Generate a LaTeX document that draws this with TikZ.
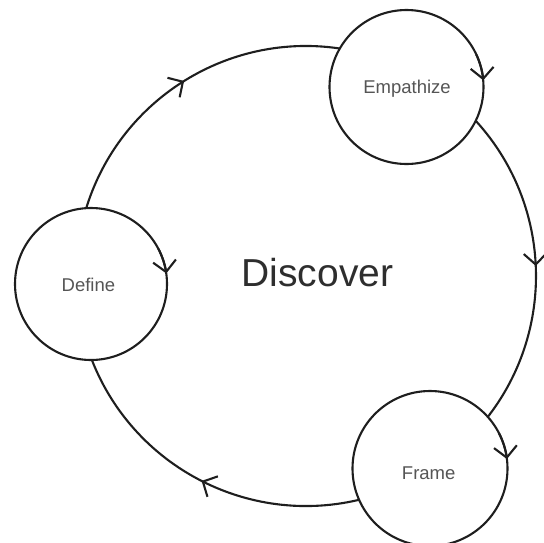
\documentclass[tikz,border=0pt]{standalone}
\usepackage{fontspec}
\setmainfont{Liberation Sans}
\usetikzlibrary{arrows.meta,decorations.markings}
\definecolor{ink}{HTML}{1E1E1E}
\definecolor{labelgray}{HTML}{555555}
\definecolor{titlegray}{HTML}{2E2E2E}
\begin{document}
\begin{tikzpicture}[x=1pt,y=1pt,line width=2.1pt,
  chevtip/.tip={Straight Barb[length=11pt,width=23pt]},
  bigarc/.style={draw=ink,postaction={decorate},
    decoration={markings,mark=at position 0.5 with {\arrow[ink]{chevtip}}}},
  phase/.style={circle,draw=ink,fill=white,minimum size=154pt,inner sep=0pt,outer sep=0pt},
  smallarrow/.style={draw=ink,-{chevtip}},
  lbl/.style={anchor=base,text=labelgray,font=\fontsize{18.5}{20}\selectfont,inner sep=0pt}]
\useasboundingbox (0,0) rectangle (544,-542);
\coordinate (c) at (306,-276);
% cycle arcs (clockwise)
\draw[bigarc] (c) ++(165:230) arc[start angle=165,end angle=79,radius=230];
\draw[bigarc] (c) ++(45:230) arc[start angle=45,end angle=-40,radius=230];
\draw[bigarc] (c) ++(-74:230) arc[start angle=-74,end angle=-160,radius=230];
% phase circles
\node[phase,minimum size=152pt] (define) at (91,-284) {};
\node[phase] (empathize) at (406.5,-87) {};
\node[phase,minimum size=155pt] (frame) at (430,-468.5) {};
% small circle arrows
\draw[smallarrow] (define.28) arc[start angle=28,end angle=8,radius=76];
\draw[smallarrow] (empathize.25) arc[start angle=25,end angle=5,radius=77];
\draw[smallarrow] (frame.27) arc[start angle=27,end angle=7,radius=77.5];
% labels
\node[lbl] (tdefine) at (88.4,-291.7) {Define};
\node[lbl] (tempathize) at (407,-93.3) {Empathize};
\node[lbl] (tframe) at (428.7,-479.3) {Frame};
\node[anchor=base,text=titlegray,font=\fontsize{39}{42}\selectfont,inner sep=0pt] (discover) at (317.4,-286.7) {Discover};
\end{tikzpicture}
\end{document}
